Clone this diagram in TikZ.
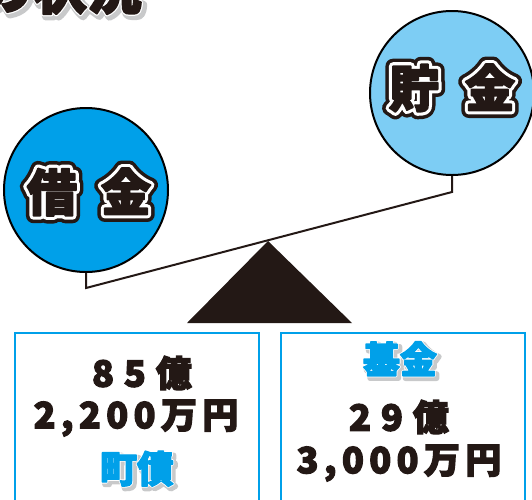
\documentclass[tikz,border=0pt]{standalone}
\usepackage{fontspec}
\usepackage{xcolor}
\newfontfamily\jp{Noto Sans CJK JP}[BoldFeatures={FakeBold=3.5}]
\newfontfamily\jpwideA{Noto Sans CJK JP}[BoldFeatures={FakeBold=30}]
\newfontfamily\jpwideB{Noto Sans CJK JP}[BoldFeatures={FakeBold=16}]
\newfontfamily\jpwideC{Noto Sans CJK JP}[BoldFeatures={FakeBold=8}]
\newfontfamily\jpwideD{Noto Sans CJK JP}[BoldFeatures={FakeBold=14}]
\definecolor{debtblue}{RGB}{0,160,233}
\definecolor{saveblue}{RGB}{125,205,244}
\definecolor{inkdark}{RGB}{35,24,21}
\definecolor{shadowgray}{RGB}{200,201,202}
\newcommand\roundjoins{\special{pdf:literal direct 1 j 1 J}}
% black glyph, white ring, black outer ring
\newcommand\ringtext[1]{%
  \roundjoins
  \makebox[0pt][l]{\jpwideA\bfseries\textcolor{inkdark}{#1}}%
  \makebox[0pt][l]{\jpwideB\bfseries\textcolor{white}{#1}}%
  \textcolor{inkdark}{#1}}
% coloured text with white rim and grey drop shadow
\newcommand\shadowtext[2]{%
  \roundjoins
  \makebox[0pt][l]{\raisebox{-2.5pt}{\hspace{2.5pt}\jpwideD\bfseries\textcolor{shadowgray}{#2}}}%
  \makebox[0pt][l]{\jpwideC\bfseries\textcolor{white}{#2}}%
  \textcolor{#1}{#2}}
\tikzset{
  bubble/.style={circle, draw=black, line width=2pt, minimum size=164pt, inner sep=0pt},
  bubbletext/.style={inner sep=0pt, font=\jp\bfseries\fontsize{50}{52}\selectfont},
  databox/.style={draw=debtblue, line width=2pt, anchor=north west, minimum width=244pt, minimum height=200pt, inner sep=0pt},
  figtext/.style={inner sep=0pt, text=inkdark, font=\jp\bfseries\fontsize{36}{40}\selectfont},
  captext/.style={inner sep=0pt, font=\jp\bfseries\fontsize{37}{40}\selectfont},
  beam/.style={draw=inkdark, line width=2pt, line join=miter},
  fulcrum/.style={fill=inkdark},
  titletext/.style={inner sep=0pt, anchor=base east, font=\jp\bfseries\fontsize{55}{60}\selectfont}
}
\begin{document}
\begin{tikzpicture}[x=1pt,y=-1pt]
\useasboundingbox (0,0) rectangle (532,499);
\clip (0,0) rectangle (532,499);
% title fragment
\node[titletext] (title) at (142,9) {\shadowtext{inkdark}{の状況}};
% data boxes
\node[databox] (lbox) at (14,332) {};
\node[databox] (rbox) at (280,332) {};
% fulcrum
\coordinate (apex) at (268,241);
\coordinate (baseL) at (187,323);
\coordinate (baseR) at (352,323);
\fill[fulcrum] (baseL) -- (apex) -- (baseR) -- cycle;
% bubbles
\node[bubble, fill=debtblue] (debt) at (86,190) {};
\node[bubble, fill=saveblue] (save) at (452,93) {};
\node[bubbletext] (debtlabel) at (89,192) {\ringtext{借}\hspace{24pt}\ringtext{金}};
\node[bubbletext] (savelabel) at (452,88) {\ringtext{貯}\hspace{26pt}\ringtext{金}};
% beam
\coordinate (endL) at (86,288);
\coordinate (endR) at (452,192);
\draw[beam] (debt.south) -- (endL) -- (endR) -- (save.south);
% left box text
\node[figtext] (ltop) at (142,373) {8\hspace{10pt}5\hspace{10pt}億};
\node[figtext] (lmid) at (136,418) {\addfontfeatures{LetterSpace=15}2,200万円};
\node[captext] (lcap) at (137,470) {\shadowtext{debtblue}{町債}};
% right box text
\node[captext] (rcap) at (400,360) {\shadowtext{debtblue}{基金}};
\node[figtext] (rtop) at (399,417) {2\hspace{10pt}9\hspace{10pt}億};
\node[figtext] (rmid) at (399,463) {\addfontfeatures{LetterSpace=15}3,000万円};
\end{tikzpicture}
\end{document}
